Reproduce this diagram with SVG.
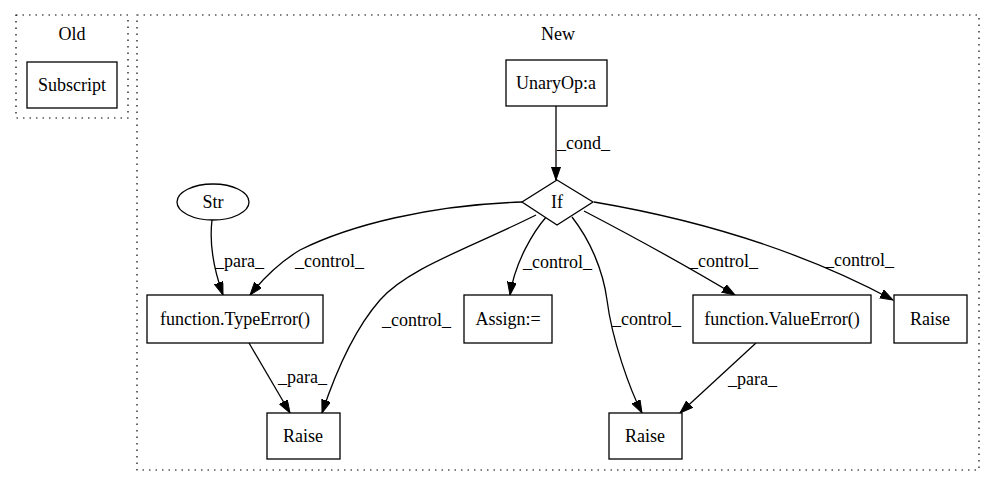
<svg xmlns="http://www.w3.org/2000/svg" width="993" height="488" viewBox="0 0 993 488">
<style>
text{font-family:"Liberation Serif","Times New Roman",serif;font-size:18px;fill:#000}
.n{fill:#fff;stroke:#000;stroke-width:1.3}
.c{fill:none;stroke:#000;stroke-width:1.2;stroke-dasharray:1.5,5}
.e{fill:none;stroke:#000;stroke-width:1.3;marker-end:url(#ah)}
.m{text-anchor:middle}
</style>
<defs>
<marker id="ah" markerUnits="userSpaceOnUse" markerWidth="14" markerHeight="12" refX="13" refY="4.5" orient="auto">
<path d="M0,0 L13,4.5 L0,9 Z" fill="#000" stroke="#000"/>
</marker>
</defs>
<rect width="993" height="488" fill="#fff"/>
<g font-family="Liberation Serif, Times New Roman, serif" font-size="18">
<g id="cluster_old">
<rect class="c" x="16" y="15" width="112" height="103"/>
<text class="m" x="72" y="40">Old</text>
</g>
<g id="cluster_new">
<rect class="c" x="137" y="15" width="842" height="455"/>
<text class="m" x="558" y="40">New</text>
</g>
<g id="edges">
<path class="e" d="M556,106 L556,180"/>
<text x="557" y="149">_cond_</text>
<path class="e" d="M212,220 C209,245 214,270 223,295"/>
<text x="215" y="267">_para_</text>
<path class="e" d="M522,202 C430,205 350,225 300,250 C280,262 262,280 250,295"/>
<text x="295" y="267">_control_</text>
<path class="e" d="M536,215 C470,248 408,268 380,300 C352,332 333,380 322,413"/>
<text x="382" y="326">_control_</text>
<path class="e" d="M249,343 L290,413"/>
<text x="278" y="383">_para_</text>
<path class="e" d="M547,216 C533,232 515,262 510,295"/>
<text x="523" y="268">_control_</text>
<path class="e" d="M572,217 C590,240 603,270 607,300 C612,340 630,390 642,413"/>
<text x="612" y="325">_control_</text>
<path class="e" d="M584,211 C630,235 690,268 735,295"/>
<text x="689" y="267">_control_</text>
<path class="e" d="M594,202 C700,220 800,250 893,300"/>
<text x="825" y="266">_control_</text>
<path class="e" d="M756,343 L680,413"/>
<text x="728" y="385">_para_</text>
</g>
<g id="subscript">
<rect class="n" x="27" y="62" width="90" height="46"/>
<text class="m" x="72" y="91">Subscript</text>
</g>
<g id="unaryop">
<rect class="n" x="506" y="60" width="101" height="46"/>
<text class="m" x="556" y="89">UnaryOp:a</text>
</g>
<g id="if">
<polygon class="n" points="557,180 593,202 557,225 522,202"/>
<text class="m" x="557" y="208">If</text>
</g>
<g id="str">
<ellipse class="n" cx="213" cy="202" rx="36" ry="18"/>
<text class="m" x="213" y="208">Str</text>
</g>
<g id="typeerror">
<rect class="n" x="147" y="295" width="176" height="48"/>
<text class="m" x="235" y="325">function.TypeError()</text>
</g>
<g id="assign">
<rect class="n" x="464" y="295" width="88" height="48"/>
<text class="m" x="508" y="325">Assign:=</text>
</g>
<g id="valueerror">
<rect class="n" x="693" y="295" width="178" height="48"/>
<text class="m" x="782" y="325">function.ValueError()</text>
</g>
<g id="raise_right">
<rect class="n" x="894" y="295" width="73" height="48"/>
<text class="m" x="930" y="325">Raise</text>
</g>
<g id="raise_left">
<rect class="n" x="267" y="413" width="73" height="46"/>
<text class="m" x="303" y="442">Raise</text>
</g>
<g id="raise_mid">
<rect class="n" x="609" y="413" width="73" height="46"/>
<text class="m" x="645" y="442">Raise</text>
</g>
</g>
</svg>
